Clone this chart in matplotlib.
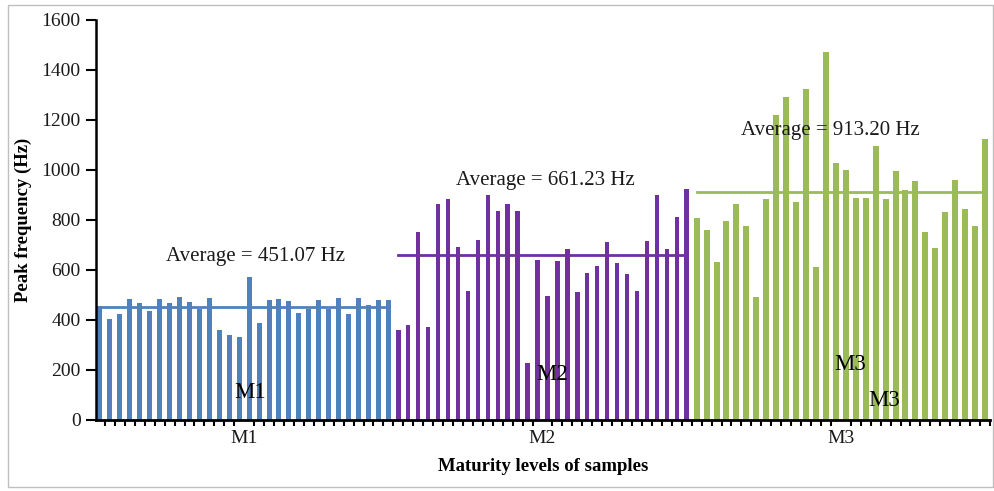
import numpy as np
import matplotlib
matplotlib.use("Agg")
import matplotlib.pyplot as plt
from matplotlib.patches import Rectangle

# Peak frequency (Hz) per sample, grouped by maturity level
m1 = [456, 404, 424, 484, 469, 435, 484, 469, 491, 472, 444, 489, 359, 341, 331,
      573, 389, 480, 484, 476, 429, 444, 480, 444, 487, 424, 487, 460, 479, 480]
m2 = [359, 379, 752, 373, 865, 883, 693, 517, 721, 899, 835, 865, 837, 227, 640,
      496, 636, 683, 511, 587, 617, 712, 629, 585, 515, 717, 901, 683, 813, 924]
m3 = [807, 760, 633, 797, 864, 776, 493, 883, 1220, 1293, 873, 1325, 613, 1472, 1027,
      1000, 889, 889, 1097, 883, 996, 920, 956, 751, 688, 832, 960, 845, 777, 1124]

groups = ["M1", "M2", "M3"]
averages = [451.07, 661.23, 913.20]
avg_labels = ["Average = 451.07 Hz", "Average = 661.23 Hz", "Average = 913.20 Hz"]
colors = ["#4F81BD", "#7030A0", "#9BBB59"]
bar_widths = [0.5, 0.45, 0.6]
yticks = [0, 200, 400, 600, 800, 1000, 1200, 1400, 1600]

plt.rcParams["font.family"] = ["Liberation Serif", "DejaVu Serif"]

fig = plt.figure(figsize=(9.95, 4.91), dpi=100)
W, H = 995, 491
ax = fig.add_axes([96 / W, 1 - 420 / H, (990 - 96) / W, (420 - 20) / H])

# light frame around the whole figure
fig.patches.append(Rectangle((8 / W, 1 - 487 / H), (993 - 8) / W, (487 - 5) / H,
                             transform=fig.transFigure, fill=False,
                             edgecolor="#BFBFBF", linewidth=1.0))

offset = 0
centers = []
for vals, col, bw, avg in zip([m1, m2, m3], colors, bar_widths, averages):
    x = np.arange(len(vals)) + offset
    ax.bar(x, vals, width=bw, color=col, zorder=2)
    ax.plot([x[0], x[-1]], [avg, avg], color=col, linewidth=2.0, zorder=3)
    centers.append((x[0] + x[-1]) / 2)
    offset += len(vals)

# average annotations
avg_pos = [(15.6, 652), (44.75, 956), (73.4, 1156)]
for (tx, ty), lab in zip(avg_pos, avg_labels):
    ax.text(tx, ty, lab, ha="center", va="center", fontsize=15, color="#1a1a1a", zorder=4)

# group tags inside the plot
tags = [("M1", 15.1, 108), ("M2", 45.5, 180), ("M3", 75.4, 220), ("M3", 78.9, 80)]
for t, tx, ty in tags:
    ax.text(tx, ty, t, ha="center", va="center", fontsize=16.5, color="black", zorder=4)

ax.set_xlim(-0.4, offset - 0.5)
ax.set_ylim(0, 1600)
ax.set_yticks(yticks)
ax.set_yticklabels([str(v) for v in yticks], fontsize=14, color="#1a1a1a")

ax.set_xticks(centers)
ax.set_xticklabels(groups, fontsize=14, color="#1a1a1a")
ax.set_xticks(np.arange(offset) + 0.5, minor=True)
ax.tick_params(axis="x", which="major", length=0, pad=7)
ax.tick_params(axis="x", which="minor", length=4, width=1.5, direction="out")
ax.tick_params(axis="y", length=7, width=1.5, direction="out", pad=4)

for side in ("top", "right"):
    ax.spines[side].set_visible(False)
ax.spines["left"].set_linewidth(1.8)
ax.spines["bottom"].set_linewidth(2.0)

ax.set_ylabel("Peak frequency (Hz)", fontsize=13.5, fontweight="bold", labelpad=7)
ax.set_xlabel("Maturity levels of samples", fontsize=13.5, fontweight="bold", labelpad=8)

fig.savefig("out.png", dpi=100)
